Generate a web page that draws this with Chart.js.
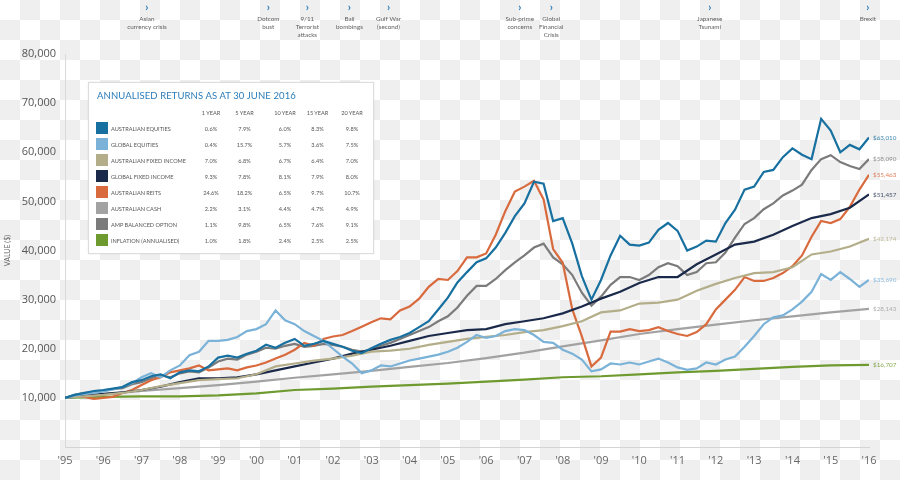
<!DOCTYPE html>
<html>
<head>
<meta charset="utf-8">
<script src="https://cdn.jsdelivr.net/npm/chart.js@4.4.1/dist/chart.umd.min.js"></script>
<style>
  html, body { margin: 0; padding: 0; }
  body {
    width: 900px; height: 480px; overflow: hidden;
    background: repeating-conic-gradient(#efefef 0 25%, #ffffff 0 50%) 0 0 / 40px 40px;
  }
  #wrap { position: relative; width: 900px; height: 480px; }
  #c { position: absolute; left: 0; top: 0; }
  #returns {
    position: absolute; left: 88px; top: 82px; width: 284px; height: 170px;
    background: #fff; border: 1px solid #dcdcdc; box-shadow: 0 0 2px rgba(0,0,0,0.08);
    font-family: Lato, 'Open Sans', sans-serif; color: #555;
  }
  #returns .title {
    position: absolute; left: 8px; top: 7px; font-size: 9.5px; color: #2b7cb8;
    white-space: nowrap; letter-spacing: 0.1px;
  }
  #returns .cell {
    position: absolute; font-size: 5.6px; white-space: nowrap; transform: translate(-50%, -50%);
  }
  #returns .name {
    position: absolute; font-size: 5.6px; white-space: nowrap; transform: translateY(-50%); left: 22px;
  }
  #returns .swatch { position: absolute; left: 7px; width: 12px; height: 12px; transform: translateY(-50%); }
</style>
</head>
<body>
<div id="wrap">
  <canvas id="c" width="900" height="480"></canvas>
  <div id="returns"></div>
</div>
<script>
'use strict'

// quarterly series: 1995.0, 1995.25 ... 2016.0
const ausEquities = [
  10000, 10600, 11000, 11400, 11600, 11900, 12200, 13200, 13600, 14400, 14800, 14000,
  15200, 15600, 15400, 16400, 18200, 18600, 18200, 19000, 19600, 20800, 20200, 21200,
  22000, 20600, 21000, 21600, 21000, 20400, 19600, 19100, 20100, 21000, 21800, 22400,
  23200, 24400, 25600, 28000, 30400, 33500, 35600, 37600, 38400, 40600, 43600, 47000,
  49600, 54000, 53600, 46000, 46600, 41400, 34800, 30000, 34000, 39000, 43000, 41200,
  41000, 41600, 44200, 45600, 44000, 40000, 40800, 42000, 41800, 45600, 48300, 52400,
  53000, 56000, 56400, 59000, 60800, 59500, 58600, 66800, 64400, 60000, 61500, 60600,
  63000
]
const globalEquities = [
  10000, 10500, 10800, 11000, 11300, 11700, 12200, 13000, 14200, 15000, 14200, 15600,
  16600, 18700, 19400, 21600, 21600, 21800, 22400, 23600, 24000, 25000, 27800, 25800,
  25000, 23600, 22600, 21600, 20000, 18400, 17000, 15000, 15600, 16600, 16400, 17000,
  17600, 18000, 18400, 18800, 19400, 20200, 21400, 22800, 22200, 22600, 23600, 24000,
  23800, 22800, 21400, 21200, 19800, 19000, 17800, 15400, 15800, 17000, 16800, 17200,
  16800, 17400, 18000, 17200, 16200, 15700, 16000, 17200, 16800, 17800, 18400, 20400,
  22600, 25000, 26400, 26800, 28000, 29600, 31600, 35200, 34000, 35600, 34200, 32600,
  34000
]
const ausReits = [
  10000, 10400, 10200, 9800, 10000, 10200, 11000, 11600, 12600, 13600, 14200, 15200,
  15600, 16000, 16600, 15600, 15800, 16000, 15600, 16200, 16600, 17200, 18000, 18800,
  19800, 21200, 20600, 22000, 22500, 22800, 23600, 24500, 25400, 26200, 26000, 27800,
  28600, 30200, 32600, 34200, 34000, 35800, 38600, 38600, 39400, 43200, 48000, 52000,
  53000, 54200, 50400, 40300, 37500, 28000, 22500, 16400, 18200, 23500, 23500, 24000,
  23600, 23800, 24400, 23600, 23000, 22600, 23400, 25000, 28000, 30000, 32000, 34600,
  33800, 33800, 34400, 35400, 36800, 39000, 42800, 46000, 45600, 46400, 48900, 52400,
  55400
]
const ampBalanced = [
  10000, 10600, 11000, 11200, 11400, 11800, 12000, 12800, 13200, 14000, 14600, 14200,
  15000, 15400, 15200, 16200, 17400, 18000, 17800, 18800, 19400, 20200, 20000, 20600,
  21000, 20400, 20600, 21000, 20800, 20400, 19800, 19400, 19800, 20600, 21200, 22000,
  22800, 23600, 24400, 25600, 26600, 28400, 30800, 32800, 32800, 34200, 36000, 37600,
  39000, 40600, 41400, 38600, 37200, 35000, 31400, 28800, 30600, 33000, 34600, 34600,
  34000, 35000, 36600, 37400, 36800, 35000, 35600, 37400, 37600, 39600, 42600, 45400,
  46600, 48400, 49600, 51200, 52200, 53400, 56400, 58600, 59400, 58000, 57200, 56600,
  58600
]
// half-yearly series: 1995.0, 1995.5 ... 2016.0
const ausFixedIncome = [
  10000, 10300, 10600, 11000, 11600, 12400, 13000, 13600, 13800, 14000, 14800, 16400,
  17000, 17600, 18000, 18600, 19400, 19600, 20000, 20800, 21400, 22000, 22400, 22800,
  23400, 23800, 24600, 25600, 27400, 27800, 29200, 29400, 30000, 31800, 33200, 34400,
  35400, 35600, 36600, 39200, 39800, 40800, 42400
]
const globalFixedIncome = [
  10000, 10400, 10800, 11100, 11600, 12300, 13200, 14000, 14000, 14200, 14800, 15600,
  16400, 17200, 18000, 19000, 19800, 20600, 21600, 22600, 23200, 23800, 24000, 25000,
  25600, 26200, 27200, 28600, 30200, 31600, 33400, 34600, 34600, 37200, 39200, 41200,
  41800, 43200, 45000, 46600, 47400, 48700, 51400
]
// yearly series: 1995 ... 2016
const ausCash = [
  10000, 10700, 11400, 12000, 12600, 13300, 14100, 14800, 15500, 16300, 17100,
  18100, 19200, 20500, 21700, 23000, 24000, 24900, 25800, 26600, 27400, 28100
]
const inflation = [
  10000, 10200, 10300, 10300, 10500, 10900, 11600, 11900, 12300, 12600, 12900,
  13300, 13700, 14200, 14400, 14800, 15200, 15500, 15900, 16300, 16600, 16700
]

const seriesNames = [
  'AUSTRALIAN EQUITIES', 'GLOBAL EQUITIES', 'AUSTRALIAN FIXED INCOME', 'GLOBAL FIXED INCOME',
  'AUSTRALIAN REITS', 'AUSTRALIAN CASH', 'AMP BALANCED OPTION', 'INFLATION (ANNUALISED)'
]
const seriesColors = ['#17709f', '#7ab2d8', '#b3ae89', '#1b2a4a', '#d86a3e', '#a2a2a2', '#7b7b7b', '#6e9a2f']
const endLabels = ['$63,010', '$33,690', '$42,174', '$51,457', '$55,463', '$28,143', '$58,090', '$16,707']

const periodHeaders = ['1 YEAR', '5 YEAR', '10 YEAR', '15 YEAR', '20 YEAR']
const returns1y = ['0.6%', '0.4%', '7.0%', '9.3%', '24.6%', '2.2%', '1.1%', '1.0%']
const returns5y = ['7.9%', '15.7%', '6.8%', '7.8%', '18.2%', '3.1%', '9.8%', '1.8%']
const returns10y = ['6.0%', '5.7%', '6.7%', '8.1%', '6.5%', '4.4%', '6.5%', '2.4%']
const returns15y = ['8.3%', '3.6%', '6.4%', '7.9%', '9.7%', '4.7%', '7.6%', '2.5%']
const returns20y = ['9.8%', '7.5%', '7.0%', '8.0%', '10.7%', '4.9%', '9.1%', '2.5%']

const eventYears = [1997.14, 2000.31, 2001.33, 2002.43, 2003.45, 2006.88, 2007.7, 2011.84, 2015.97]
const eventLabels = [
  ['Asian', 'currency crisis'], ['Dotcom', 'bust'], ['9/11', 'Terrorist', 'attacks'],
  ['Bali', 'bombings'], ['Gulf War', '(second)'], ['Sub-prime', 'concerns'],
  ['Global', 'Financial', 'Crisis'], ['Japanese', 'Tsunami'], ['Brexit']
]

function toPoints (values, start, step) {
  return values.map((v, i) => ({ x: start + i * step, y: v }))
}

const seriesData = [
  toPoints(ausEquities, 1995, 0.25),
  toPoints(globalEquities, 1995, 0.25),
  toPoints(ausFixedIncome, 1995, 0.5),
  toPoints(globalFixedIncome, 1995, 0.5),
  toPoints(ausReits, 1995, 0.25),
  toPoints(ausCash, 1995, 1),
  toPoints(ampBalanced, 1995, 0.25),
  toPoints(inflation, 1995, 1)
]

// returns table (legend)
function buildTable () {
  const box = document.getElementById('returns')
  const colX = [122, 155.5, 196, 228.5, 263]
  const columns = [returns1y, returns5y, returns10y, returns15y, returns20y]
  let html = '<div class="title">ANNUALISED RETURNS AS AT 30 JUNE 2016</div>'
  periodHeaders.forEach((h, c) => {
    html += '<div class="cell" style="left:' + colX[c] + 'px;top:29px">' + h + '</div>'
  })
  seriesNames.forEach((name, r) => {
    const top = 44.5 + r * 16.1
    html += '<div class="swatch" style="top:' + top + 'px;background:' + seriesColors[r] + '"></div>'
    html += '<div class="name" style="top:' + top + 'px">' + name + '</div>'
    columns.forEach((col, c) => {
      html += '<div class="cell" style="left:' + colX[c] + 'px;top:' + top + 'px">' + col[r] + '</div>'
    })
  })
  box.innerHTML = html
}

const annotationPlugin = {
  id: 'annotations',
  afterDraw (chart) {
    const ctx = chart.ctx
    const xs = chart.scales.x
    ctx.save()
    ctx.textAlign = 'center'
    ctx.textBaseline = 'middle'
    eventYears.forEach((yr, i) => {
      const px = xs.getPixelForValue(yr)
      ctx.fillStyle = '#2b7cb8'
      ctx.font = 'bold 11px Lato'
      ctx.fillText('›', px, 7)
      ctx.fillStyle = '#606060'
      ctx.font = '6.3px Lato'
      eventLabels[i].forEach((line, j) => {
        ctx.fillText(line, px, 19 + j * 8)
      })
    })
    // value labels at the end of each line
    ctx.textAlign = 'left'
    ctx.font = '6.3px Lato'
    chart.data.datasets.forEach((ds, i) => {
      const meta = chart.getDatasetMeta(i)
      const last = meta.data[meta.data.length - 1]
      ctx.fillStyle = seriesColors[i]
      ctx.globalAlpha = 0.85
      ctx.fillText(endLabels[i], chart.chartArea.right + 4, last.y)
    })
    ctx.restore()
  }
}

function renderChart () {
  const ctx = document.getElementById('c').getContext('2d')
  return new Chart(ctx, {
    type: 'line',
    data: {
      datasets: seriesData.map((points, i) => ({
        label: seriesNames[i],
        data: points,
        borderColor: seriesColors[i],
        backgroundColor: seriesColors[i],
        borderWidth: 2.2,
        pointRadius: 0,
        tension: 0,
        fill: false
      }))
    },
    options: {
      responsive: false,
      animation: false,
      devicePixelRatio: 1,
      layout: { padding: { top: 54, right: 31, left: 0, bottom: 0 } },
      plugins: { legend: { display: false }, tooltip: { enabled: false } },
      scales: {
        x: {
          type: 'linear',
          min: 1995,
          max: 2016,
          grid: { drawOnChartArea: false, drawTicks: false },
          border: { color: '#d4d4d4' },
          afterFit (scale) { scale.height = 33 },
          ticks: {
            stepSize: 1,
            padding: 7,
            color: '#666',
            font: { family: 'Open Sans', size: 11 },
            callback: v => "'" + String(v).slice(2)
          }
        },
        y: {
          min: 0,
          max: 80000,
          grid: { display: false, drawTicks: false },
          border: { color: '#dadada' },
          afterFit (scale) { scale.width = 65 },
          title: {
            display: true,
            text: 'VALUE ($)',
            color: '#666',
            font: { family: 'Lato', size: 7 },
            padding: { top: 4, bottom: 0 }
          },
          ticks: {
            stepSize: 10000,
            padding: 9,
            color: '#555',
            font: { family: 'Open Sans', size: 11 },
            callback: v => v === 0 ? '' : v.toLocaleString('en-US')
          }
        }
      }
    },
    plugins: [annotationPlugin]
  })
}

buildTable()
renderChart()
</script>
</body>
</html>
